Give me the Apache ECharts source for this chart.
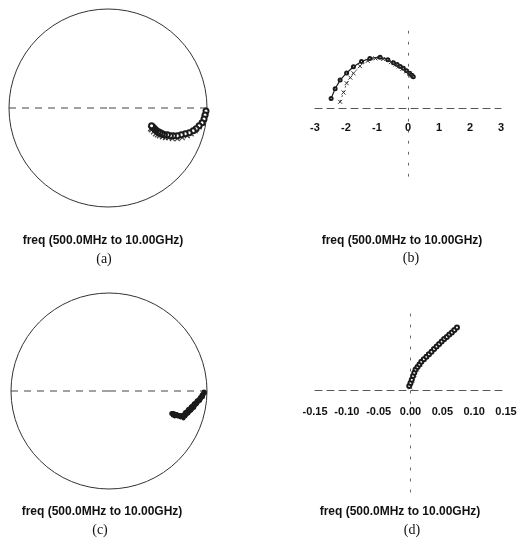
<!DOCTYPE html>
<html>
<head>
<meta charset="utf-8">
<script src="https://cdn.jsdelivr.net/npm/echarts@6/dist/echarts.min.js"></script>
<style>
  html, body { margin: 0; padding: 0; background: #fff; }
  #chart { width: 528px; height: 550px; }
</style>
</head>
<body>
<div id="chart"></div>
<script>
// (a) reflection coefficient, real / imaginary parts
var aMeasRe = [0.99, 0.98, 0.97, 0.95, 0.92, 0.89, 0.86, 0.82, 0.78, 0.74, 0.70, 0.66, 0.63, 0.60, 0.57, 0.55, 0.53, 0.51, 0.49, 0.48, 0.47, 0.46, 0.45, 0.44];
var aMeasIm = [-0.03, -0.07, -0.11, -0.15, -0.18, -0.21, -0.23, -0.25, -0.26, -0.27, -0.28, -0.28, -0.28, -0.27, -0.27, -0.26, -0.25, -0.24, -0.23, -0.22, -0.21, -0.20, -0.19, -0.18];
var aModRe = [0.99, 0.97, 0.95, 0.92, 0.88, 0.84, 0.80, 0.75, 0.70, 0.65, 0.61, 0.58, 0.55, 0.52, 0.50, 0.48, 0.46, 0.44, 0.43];
var aModIm = [-0.05, -0.10, -0.15, -0.19, -0.23, -0.26, -0.28, -0.30, -0.31, -0.31, -0.30, -0.30, -0.29, -0.28, -0.27, -0.26, -0.24, -0.22, -0.21];

// (b) complex response, real / imaginary parts
var bMeasRe = [-2.48, -2.35, -2.19, -1.98, -1.76, -1.50, -1.23, -0.90, -0.65, -0.47, -0.35, -0.25, -0.15, -0.05, 0.05, 0.12, 0.17];
var bMeasIm = [0.31, 0.62, 0.90, 1.13, 1.33, 1.50, 1.60, 1.64, 1.56, 1.46, 1.40, 1.34, 1.28, 1.20, 1.12, 1.06, 1.01];
var bModRe = [-2.19, -2.08, -1.98, -1.86, -1.76, -1.55, -1.30, -1.05, -0.80, -0.55, -0.40, -0.30, -0.18, -0.05, 0.05, 0.12];
var bModIm = [0.20, 0.50, 0.80, 0.98, 1.12, 1.35, 1.52, 1.60, 1.58, 1.48, 1.40, 1.34, 1.27, 1.18, 1.11, 1.05];

// (c) reflection coefficient, real / imaginary parts
var cMeasRe = [0.97, 0.95, 0.93, 0.90, 0.87, 0.84, 0.81, 0.78, 0.75, 0.72, 0.69, 0.66, 0.64];
var cMeasIm = [-0.01, -0.04, -0.07, -0.10, -0.13, -0.16, -0.19, -0.22, -0.25, -0.25, -0.24, -0.23, -0.23];
var cModRe = [0.98, 0.96, 0.93, 0.90, 0.87, 0.84, 0.81, 0.78, 0.76, 0.73, 0.70, 0.67, 0.65];
var cModIm = [-0.02, -0.06, -0.10, -0.13, -0.17, -0.20, -0.23, -0.26, -0.28, -0.27, -0.26, -0.26, -0.25];

// (d) complex response, real / imaginary parts
var dMeasRe = [-0.002, 0.000, 0.002, 0.004, 0.006, 0.008, 0.011, 0.014, 0.017, 0.021, 0.025, 0.029, 0.033, 0.037, 0.041, 0.045, 0.049, 0.053, 0.057, 0.061, 0.065, 0.069, 0.073];
var dMeasIm = [0.006, 0.011, 0.016, 0.022, 0.027, 0.032, 0.036, 0.040, 0.044, 0.048, 0.052, 0.056, 0.060, 0.064, 0.068, 0.072, 0.076, 0.080, 0.083, 0.087, 0.090, 0.094, 0.098];
var dModRe = [0.000, 0.003, 0.006, 0.010, 0.015, 0.021, 0.028, 0.036, 0.044, 0.052, 0.060, 0.067];
var dModIm = [0.004, 0.014, 0.024, 0.032, 0.040, 0.048, 0.056, 0.064, 0.071, 0.079, 0.086, 0.093];

// axis tick values of the rectangular plots
var bTicks = [-3, -2, -1, 0, 1, 2, 3];
var dTicks = [-0.15, -0.10, -0.05, 0.00, 0.05, 0.10, 0.15];

var sweepLabel = 'freq (500.0MHz to 10.00GHz)';
var panelNames = ['(a)', '(b)', '(c)', '(d)'];

function toPolar(re, im) {
  return re.map(function (r, i) {
    var ang = Math.atan2(im[i], r) * 180 / Math.PI;
    return [Math.hypot(r, im[i]), (ang + 360) % 360];
  });
}
function pairs(re, im) {
  return re.map(function (r, i) { return [r, im[i]]; });
}

var ink = '#1a1a1a';
var crossPath = 'path://M0,0L10,10M10,0L0,10';

function angleAxisFor(idx) {
  return {
    polarIndex: idx, type: 'value', min: 0, max: 360, interval: 180,
    startAngle: 0, clockwise: false,
    axisLine: { show: true, lineStyle: { color: '#333', width: 1 } },
    axisTick: { show: false }, axisLabel: { show: false },
    splitLine: { show: true, lineStyle: { color: '#444', width: 1, type: [7, 6] } }
  };
}
function radiusAxisFor(idx) {
  return {
    polarIndex: idx, type: 'value', min: 0, max: 1,
    axisLine: { show: false }, axisTick: { show: false },
    axisLabel: { show: false }, splitLine: { show: false }
  };
}
// the horizontal axis sits on the zero line: it is lifted from the grid bottom by `lift` px
function xAxisFor(idx, ticks, decimals, lift, margin) {
  return {
    gridIndex: idx, type: 'value',
    min: ticks[0], max: ticks[ticks.length - 1],
    interval: ticks[1] - ticks[0],
    offset: -lift,
    axisLine: { onZero: false, lineStyle: { color: '#555', width: 1, type: [7, 5] } },
    axisTick: { show: false },
    splitLine: { show: false },
    axisLabel: {
      margin: margin, color: '#111', fontSize: 11, fontWeight: 'bold',
      fontFamily: 'Liberation Sans, Arial, sans-serif',
      formatter: function (v) {
        if (Math.abs(v) < 1e-9) v = 0;
        return v.toFixed(decimals);
      }
    }
  };
}
function yAxisFor(idx, min, max) {
  return {
    gridIndex: idx, type: 'value', min: min, max: max,
    axisLine: { onZero: true, lineStyle: { color: '#666', width: 1, type: [2, 9] } },
    axisTick: { show: false }, axisLabel: { show: false },
    splitLine: { show: false }
  };
}

var textFont = 'bold 12px "Liberation Sans", Arial, sans-serif';
var letterFont = '14px "Liberation Serif", "Times New Roman", serif';
var labelPos = [[103, 241], [402, 241], [102, 512], [400, 512]];
var letterPos = [[104, 259], [411, 258], [100, 530], [412, 530]];
var graphics = [];
labelPos.forEach(function (p) {
  graphics.push({ type: 'text', x: p[0], y: p[1],
    style: { text: sweepLabel, font: textFont, fill: '#111', textAlign: 'center', textVerticalAlign: 'middle' } });
});
letterPos.forEach(function (p, i) {
  graphics.push({ type: 'text', x: p[0], y: p[1],
    style: { text: panelNames[i], font: letterFont, fill: '#111', textAlign: 'center', textVerticalAlign: 'middle' } });
});

var chart = echarts.init(document.getElementById('chart'), null, { renderer: 'canvas' });
chart.setOption({
  backgroundColor: '#fff',
  animation: false,
  polar: [
    { center: [108, 108], radius: 99 },
    { center: [109, 391], radius: 98 }
  ],
  angleAxis: [angleAxisFor(0), angleAxisFor(1)],
  radiusAxis: [radiusAxisFor(0), radiusAxisFor(1)],
  grid: [
    { left: 315, width: 186, top: 27.4, height: 148.8 },
    { left: 315, width: 191, top: 307, height: 185 }
  ],
  xAxis: [xAxisFor(0, bTicks, 0, 68.2, 14), xAxisFor(1, dTicks, 2, 102, 16)],
  yAxis: [yAxisFor(0, -2.2, 2.6), yAxisFor(1, -0.16, 0.13)],
  graphic: graphics,
  series: [
    { type: 'line', coordinateSystem: 'polar', polarIndex: 0, data: toPolar(aMeasRe, aMeasIm),
      symbol: 'emptyCircle', symbolSize: 5, showSymbol: true,
      lineStyle: { color: ink, width: 1.5 }, itemStyle: { color: ink, borderColor: ink, borderWidth: 1 } },
    { type: 'scatter', coordinateSystem: 'polar', polarIndex: 0, data: toPolar(aModRe, aModIm),
      symbol: crossPath, symbolSize: 5,
      itemStyle: { color: 'none', borderColor: ink, borderWidth: 1.2 } },

    { type: 'line', xAxisIndex: 0, yAxisIndex: 0, data: pairs(bMeasRe, bMeasIm),
      symbol: 'emptyCircle', symbolSize: 3, showSymbol: true,
      lineStyle: { color: ink, width: 1.2 }, itemStyle: { color: ink, borderColor: ink, borderWidth: 1 } },
    { type: 'line', xAxisIndex: 0, yAxisIndex: 0, data: pairs(bModRe, bModIm),
      symbol: crossPath, symbolSize: 4, showSymbol: true,
      lineStyle: { color: '#555', width: 1, type: [2, 3] },
      itemStyle: { color: 'none', borderColor: '#333', borderWidth: 1 } },

    { type: 'line', coordinateSystem: 'polar', polarIndex: 1, data: toPolar(cMeasRe, cMeasIm),
      symbol: 'circle', symbolSize: 5, showSymbol: true,
      lineStyle: { color: ink, width: 4 }, itemStyle: { color: ink } },
    { type: 'line', coordinateSystem: 'polar', polarIndex: 1, data: toPolar(cModRe, cModIm),
      symbol: 'circle', symbolSize: 4, showSymbol: true,
      lineStyle: { color: ink, width: 3 }, itemStyle: { color: ink } },

    { type: 'line', xAxisIndex: 1, yAxisIndex: 1, data: pairs(dMeasRe, dMeasIm),
      symbol: 'emptyCircle', symbolSize: 4, showSymbol: true,
      lineStyle: { color: ink, width: 2 }, itemStyle: { color: ink, borderColor: ink, borderWidth: 1 } },
    { type: 'scatter', xAxisIndex: 1, yAxisIndex: 1, data: pairs(dModRe, dModIm),
      symbol: crossPath, symbolSize: 4,
      itemStyle: { color: 'none', borderColor: '#333', borderWidth: 1 } }
  ]
});
</script>
</body>
</html>
